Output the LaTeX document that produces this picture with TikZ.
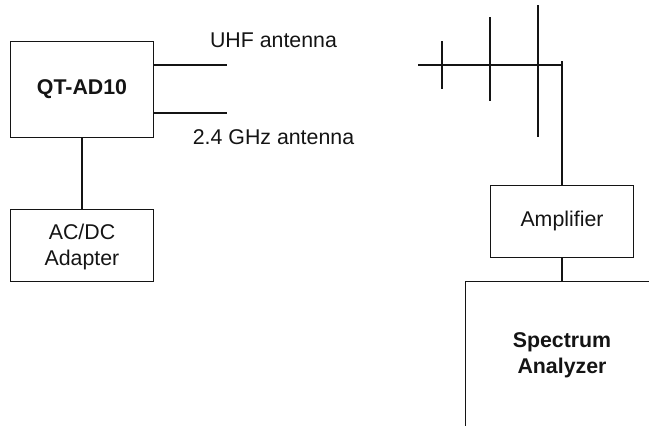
\documentclass[tikz,border=0pt]{standalone}
\usepackage{fontspec}
\setmainfont{Liberation Sans}
\usetikzlibrary{positioning}
\definecolor{ink}{HTML}{141414}
\tikzset{
  unitbox/.style={draw=ink, line width=0.75pt, minimum width=107.6pt, minimum height=72pt, inner sep=0pt, align=center, text=ink, font=\fontsize{16}{19.5}\selectfont},
  wire/.style={draw=ink, line width=1.1pt},
  tag/.style={text=ink, inner sep=0pt, font=\fontsize{16}{19.5}\selectfont}
}
\begin{document}
\begin{tikzpicture}[x=0.75pt, y=-0.75pt]
\clip (0,0) rectangle (649,425);
\path[use as bounding box] (0,0) rectangle (649,425);
% left side
\node[unitbox, font=\fontsize{16}{19.5}\bfseries\selectfont] (qtad) at (82,89) {QT-AD10};
\node[unitbox, minimum height=54pt, text depth=0pt] (adapter) at (82,245) {AC/DC\\Adapter};
\draw[wire] (qtad) -- (adapter);
\coordinate (uhfEnd) at (227,65);
\coordinate (ghzEnd) at (227,113);
\draw[wire] (uhfEnd -| qtad.east) -- (uhfEnd);
\draw[wire] (ghzEnd -| qtad.east) -- (ghzEnd);
\node[tag] (uhfTag) at (273.5,40) {UHF antenna};
\node[tag] (ghzTag) at (273.5,137) {2.4 GHz antenna};
% right side
\node[unitbox, minimum height=54pt] (amp) at (562,221) {Amplifier};
\node[tag, font=\fontsize{16}{19.5}\bfseries\selectfont, minimum width=144pt, minimum height=108pt, align=center, text depth=0pt] (analyzer) at (562,353.5) {Spectrum\\Analyzer};
\draw[draw=ink, line width=0.75pt] (analyzer.south west) -- (analyzer.north west) -- (analyzer.north east);
\draw[wire] (amp) -- (analyzer);
% antenna
\coordinate (tip) at (418,65);
\coordinate (feed) at (562,65);
\coordinate (feedTop) at (562,61);
\draw[wire] (tip) -- (feed);
\draw[wire] (feedTop) -- (amp);
\foreach \x/\t/\b in {442/41/89, 490/17/101, 538/5/137} {
  \draw[wire] (\x,\t) -- (\x,\b);
}
\end{tikzpicture}
\end{document}
